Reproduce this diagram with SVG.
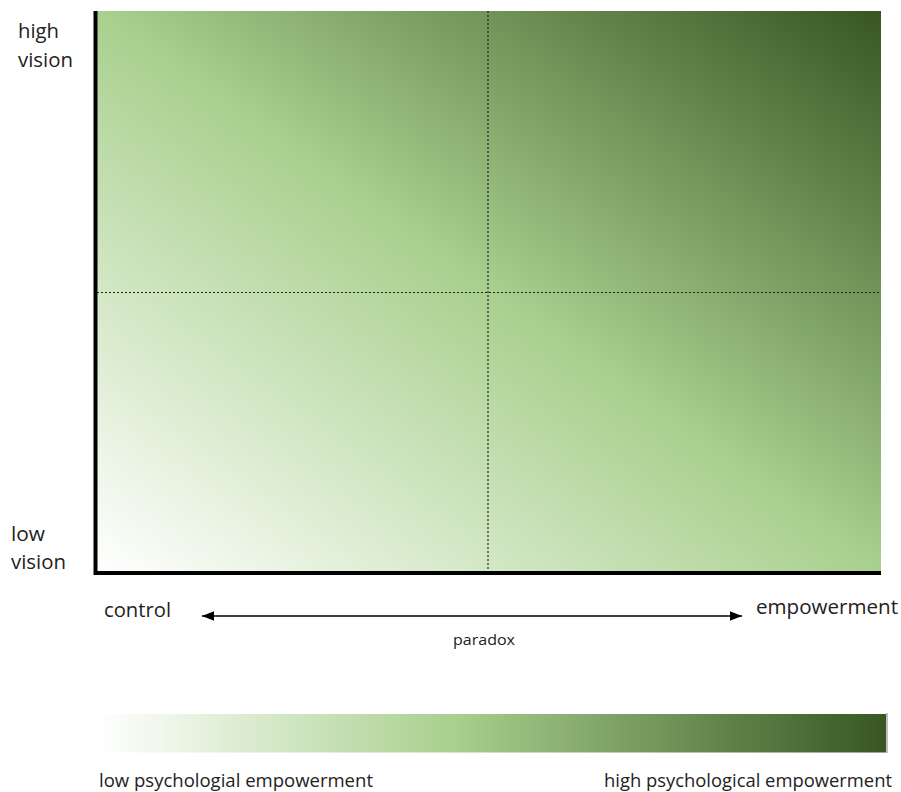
<svg xmlns="http://www.w3.org/2000/svg" width="901" height="792" viewBox="0 0 901 792">
<defs>
<linearGradient id="quad" x1="0" y1="1" x2="1" y2="0">
<stop offset="0" stop-color="#ffffff"/>
<stop offset="0.5" stop-color="#a9d08e"/>
<stop offset="1" stop-color="#375623"/>
</linearGradient>
<linearGradient id="bar" x1="0" y1="0" x2="1" y2="0">
<stop offset="0" stop-color="#ffffff"/>
<stop offset="0.45" stop-color="#a9d08e"/>
<stop offset="1" stop-color="#375623"/>
</linearGradient>
<marker id="ah" viewBox="0 0 10 10" refX="10" refY="5" markerWidth="12" markerHeight="12" markerUnits="userSpaceOnUse" orient="auto-start-reverse">
<path d="M0,1 L10,5 L0,9 Z" fill="#000"/>
</marker>
<style>
text{font-family:"Open Sans","Liberation Sans",sans-serif;fill:#222}
.lab{font-size:19.5px}
.leg{font-size:17.5px}
.small{font-size:14.5px}
.axis{stroke:#000;stroke-width:4;fill:none}
.dot{stroke:#222;stroke-width:1.2;stroke-dasharray:2 2;fill:none}
</style>
</defs>
<g id="matrix">
<rect x="97" y="11" width="784" height="560" fill="url(#quad)"/>
<line class="dot" x1="488" y1="11" x2="488" y2="571"/>
<line class="dot" x1="97" y1="292.5" x2="881" y2="292.5"/>
<path class="axis" d="M95.5,11 V573 H881"/>
</g>
<g id="labels-y">
<text class="lab" x="18" y="38" textLength="41" lengthAdjust="spacingAndGlyphs">high</text>
<text class="lab" x="18" y="67" textLength="55" lengthAdjust="spacingAndGlyphs">vision</text>
<text class="lab" x="11" y="541" textLength="34" lengthAdjust="spacingAndGlyphs">low</text>
<text class="lab" x="11" y="569" textLength="55" lengthAdjust="spacingAndGlyphs">vision</text>
</g>
<g id="connectors">
<line x1="202" y1="616" x2="742" y2="616" stroke="#000" stroke-width="1.3" marker-start="url(#ah)" marker-end="url(#ah)"/>
</g>
<g id="labels-x">
<text class="lab" x="104" y="617" textLength="67" lengthAdjust="spacingAndGlyphs">control</text>
<text class="lab" x="756" y="614" textLength="142" lengthAdjust="spacingAndGlyphs">empowerment</text>
<text class="small" x="453" y="645" textLength="62" lengthAdjust="spacingAndGlyphs">paradox</text>
</g>
<g id="legend">
<rect x="98" y="714" width="788" height="38.5" fill="url(#bar)"/>
<line x1="887" y1="713" x2="887" y2="753" stroke="#aaa" stroke-width="1.5"/>
<text class="leg" x="99" y="787" textLength="274" lengthAdjust="spacingAndGlyphs">low psychologial empowerment</text>
<text class="leg" x="604" y="787" textLength="288" lengthAdjust="spacingAndGlyphs">high psychological empowerment</text>
</g>
</svg>
